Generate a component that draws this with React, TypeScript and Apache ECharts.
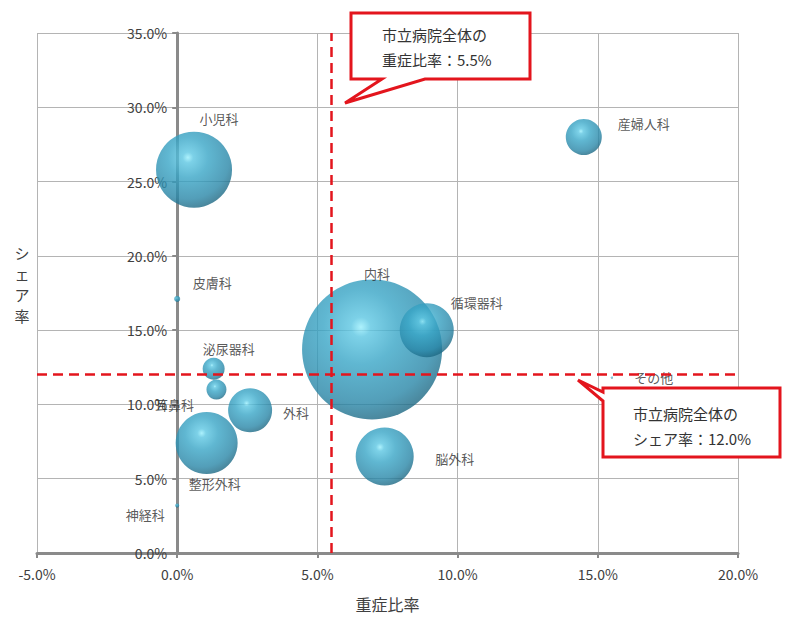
import React, { useEffect, useRef } from "react";
import * as echarts from "echarts";

// Departments, their severity ratio (%), market share (%) and patient volume
const departments = ["内科", "循環器科", "小児科", "整形外科", "脳外科", "外科", "産婦人科", "耳鼻科", "泌尿器科", "皮膚科", "神経科", "その他"];
const severityRatio = [6.95, 8.9, 0.6, 1.05, 7.4, 2.6, 14.5, 1.4, 1.3, 0.0, 0.0, 15.5];
const shareRate = [13.7, 15.0, 25.8, 7.4, 6.5, 9.6, 28.0, 11.0, 12.4, 17.1, 3.2, 11.8];
const patientVolume = [4900, 729, 1444, 961, 841, 484, 324, 100, 121, 9, 4, 1];

// Hospital-wide reference values
const hospitalSeverity = 5.5;
const hospitalShare = 12.0;

// Axis ranges
const xRange = { min: -5, max: 20, step: 5 };
const yRange = { min: 0, max: 35, step: 5 };

// Vertical axis title, one character per line
const yTitleChars = ["シ", "ェ", "ア", "率"];

// Label placement around each bubble (pixel offsets from bubble centre)
const labelOffsets: Record<string, [number, number]> = {
  内科: [5, -76],
  循環器科: [50, -28],
  小児科: [25, -51],
  整形外科: [8, 40],
  脳外科: [70, 2],
  外科: [46, 2],
  産婦人科: [60, -14],
  耳鼻科: [-42, 15],
  泌尿器科: [15, -20],
  皮膚科: [35, -16],
  神経科: [-32, 9],
  その他: [42, 0],
};

const sphere = {
  type: "radial",
  x: 0.42,
  y: 0.34,
  r: 0.7,
  colorStops: [
    { offset: 0, color: "#98eefc" },
    { offset: 0.1, color: "#5cc6e2" },
    { offset: 0.38, color: "#38a5c6" },
    { offset: 0.78, color: "#2886a7" },
    { offset: 1, color: "#1a627c" },
  ],
};

const font = "'Noto Sans CJK JP', 'Noto Sans', sans-serif";
const textColor = "#404040";
const calloutRed = "#e3151d";

const gridBox = { left: 37, right: 53, top: 33, bottom: 64 };

export default function App() {
  const ref = useRef<HTMLDivElement>(null);

  useEffect(() => {
    if (!ref.current) return;
    const chart = echarts.init(ref.current, null, { renderer: "svg" });

    const data = departments.map((name, i) => ({
      name,
      value: [severityRatio[i], shareRate[i], patientVolume[i]],
    }));

    // the vertical axis sits on x = 0, inside the plot
    const plotWidth = 791 - gridBox.left - gridBox.right;
    const zeroShift = ((0 - xRange.min) / (xRange.max - xRange.min)) * plotWidth;

    const yTitle = yTitleChars.map((ch, i) => ({
      type: "text",
      x: 22,
      y: 252 + i * 21,
      style: {
        text: ch,
        fontSize: 15,
        fill: textColor,
        fontFamily: font,
        align: "center",
        verticalAlign: "middle",
      },
    }));

    chart.setOption({
      animation: false,
      backgroundColor: "#ffffff",
      textStyle: { fontFamily: font },
      grid: { ...gridBox, outerBoundsMode: "none", containLabel: false },
      xAxis: {
        type: "value",
        min: xRange.min,
        max: xRange.max,
        interval: xRange.step,
        name: "重症比率",
        nameLocation: "middle",
        nameGap: 43,
        nameTextStyle: { fontSize: 16, color: textColor, fontFamily: font },
        axisLine: { onZero: true, lineStyle: { color: "#8a8a8a", width: 3 } },
        axisTick: { show: true, length: 5, lineStyle: { color: "#8a8a8a", width: 2 } },
        axisLabel: {
          margin: 14,
          fontSize: 14,
          color: textColor,
          fontFamily: font,
          formatter: (v: number) => v.toFixed(1) + "%",
        },
        splitLine: { show: true, lineStyle: { color: "#b4b4b4", width: 1 } },
      },
      yAxis: {
        type: "value",
        min: yRange.min,
        max: yRange.max,
        interval: yRange.step,
        offset: -zeroShift,
        axisLine: { onZero: false, lineStyle: { color: "#8a8a8a", width: 3 } },
        axisTick: { show: true, length: 5, lineStyle: { color: "#8a8a8a", width: 2 } },
        axisLabel: {
          margin: 10,
          fontSize: 14,
          color: textColor,
          fontFamily: font,
          formatter: (v: number) => v.toFixed(1) + "%",
        },
        splitLine: { show: true, lineStyle: { color: "#b4b4b4", width: 1 } },
      },
      series: [
        {
          type: "scatter",
          data,
          symbolSize: (val: number[]) => 2 * Math.sqrt(val[2]),
          itemStyle: { color: sphere },
          label: {
            show: true,
            position: "inside",
            formatter: "{b}",
            fontSize: 13,
            color: "#2e2e2e",
            fontFamily: font,
          },
          labelLayout: (params: any) => {
            const off = labelOffsets[departments[params.dataIndex]] || [0, 0];
            return { dx: off[0], dy: off[1], hideOverlap: false };
          },
          markLine: {
            silent: true,
            symbol: "none",
            label: { show: false },
            lineStyle: { color: calloutRed, type: [10, 6], width: 2.5 },
            data: [{ xAxis: hospitalSeverity }, { yAxis: hospitalShare }],
          },
          z: 3,
        },
      ],
      graphic: [
        ...yTitle,
        {
          type: "polygon",
          z: 10,
          shape: {
            points: [
              [351, 13],
              [530, 13],
              [530, 79],
              [425, 79],
              [345, 103],
              [382, 79],
              [351, 79],
            ],
          },
          style: { fill: "#ffffff", stroke: calloutRed, lineWidth: 3, lineJoin: "miter" },
        },
        {
          type: "text",
          z: 11,
          x: 382,
          y: 22,
          style: {
            text: "市立病院全体の\n重症比率：5.5%",
            fontSize: 15,
            lineHeight: 25,
            fill: "#333333",
            fontFamily: font,
          },
        },
        {
          type: "polygon",
          z: 10,
          shape: {
            points: [
              [603, 388],
              [780, 388],
              [780, 457],
              [603, 457],
              [603, 401],
              [578, 380],
              [603, 392],
            ],
          },
          style: { fill: "#ffffff", stroke: calloutRed, lineWidth: 3, lineJoin: "miter" },
        },
        {
          type: "text",
          z: 11,
          x: 633,
          y: 401,
          style: {
            text: "市立病院全体の\nシェア率：12.0%",
            fontSize: 15,
            lineHeight: 25,
            fill: "#333333",
            fontFamily: font,
          },
        },
      ],
    });

    return () => chart.dispose();
  }, []);

  return (
    <div
      ref={ref}
      style={{ position: "absolute", left: 0, top: 0, width: 791, height: 617, background: "#fff" }}
    />
  );
}
